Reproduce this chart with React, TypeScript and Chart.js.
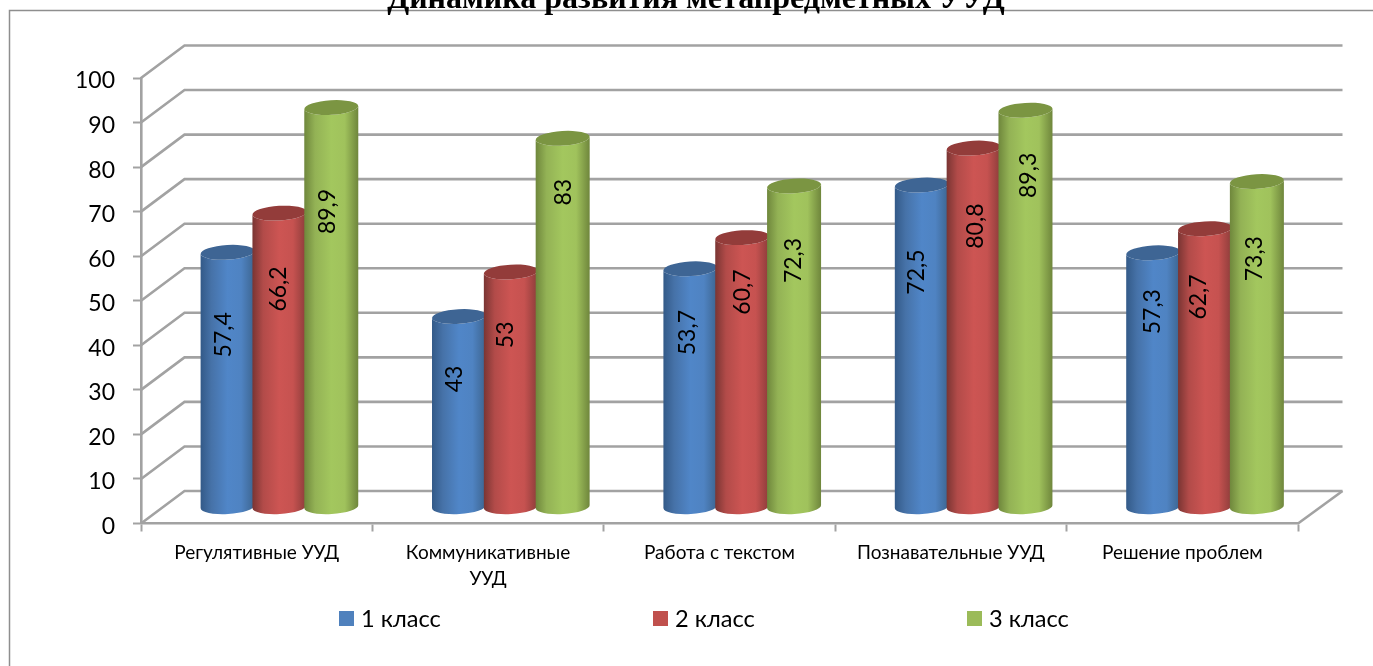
import React, { useEffect, useRef } from "react";
import { Chart, registerables } from "chart.js";

Chart.register(...registerables);

const chartTitle = "Динамика развития метапредметных УУД";
const categories = [
  "Регулятивные УУД",
  ["Коммуникативные", "УУД"],
  "Работа с текстом",
  "Познавательные УУД",
  "Решение проблем",
];
const seriesNames = ["1 класс", "2 класс", "3 класс"];
const grade1 = [57.4, 43, 53.7, 72.5, 57.3];
const grade2 = [66.2, 53, 60.7, 80.8, 62.7];
const grade3 = [89.9, 83, 72.3, 89.3, 73.3];
const axisTicks = [0, 10, 20, 30, 40, 50, 60, 70, 80, 90, 100];

// Height on the value axis where each rotated value label sits, per series.
const labelLevels = [
  [38.7, 28.8, 39.2, 52.8, 43.9],
  [49, 38.7, 48.3, 63.1, 47.2],
  [66.4, 70.7, 55.4, 74.5, 55.8],
];
// Sideways nudge of each value label from the middle of its cylinder.
const labelNudges = [
  [-3, -3, -2, -4, 0],
  [0, -4, 1, 3, -5],
  [-3, 2, 0, 4, -1],
];

const FONT = "Lato, Carlito, Calibri, sans-serif";
const GRID = "#a2a2a2";
const FRAME = "#8e8e8e";
const DEPTH_X = 43.5;
const DEPTH_Y = 32.5;
const CAP_RY = 7.3;
const CAP_TILT = -0.06;

const flat = ["#4f81bd", "#c0504d", "#9bbb59"];
const capColors = ["#3e6594", "#933c3a", "#7b9542"];
const bodyStops = [
  ["#335a88", "#4672a8", "#5086c8", "#4f83c2", "#3c648f"],
  ["#7a3533", "#b24b49", "#cd5553", "#c65250", "#8b3c3a"],
  ["#6f873c", "#93b255", "#a3c75e", "#a0c25c", "#6f863c"],
];

function drawCylinder(ctx: CanvasRenderingContext2D, bar: any, series: number) {
  const w = bar.width * 1.042;
  const rx = w / 2;
  const cx = bar.x + DEPTH_X / 2 + 1;
  const top = bar.y - DEPTH_Y / 2 + 0.8;
  const base = bar.base - DEPTH_Y / 2;
  const lift = rx * Math.sin(-CAP_TILT);

  const gradient = ctx.createLinearGradient(cx - rx, 0, cx + rx, 0);
  [0, 0.2, 0.5, 0.75, 1].forEach((stop, i) => gradient.addColorStop(stop, bodyStops[series][i]));

  ctx.beginPath();
  ctx.moveTo(cx - rx, top + lift);
  ctx.lineTo(cx - rx, base + lift);
  ctx.ellipse(cx, base, rx, CAP_RY, CAP_TILT, Math.PI, 0, true);
  ctx.lineTo(cx + rx, top - lift);
  ctx.ellipse(cx, top, rx, CAP_RY, CAP_TILT, 0, Math.PI, false);
  ctx.closePath();
  ctx.fillStyle = gradient;
  ctx.fill();

  ctx.beginPath();
  ctx.ellipse(cx, top, rx, CAP_RY, CAP_TILT, 0, Math.PI * 2);
  ctx.fillStyle = capColors[series];
  ctx.fill();
}

const scenePlugin = {
  id: "scene3d",
  beforeDraw(chart: any) {
    const { ctx } = chart;
    ctx.save();
    ctx.strokeStyle = FRAME;
    ctx.lineWidth = 1.5;
    ctx.beginPath();
    ctx.moveTo(9.5, 666);
    ctx.lineTo(9.5, 10.5);
    ctx.lineTo(1373, 10.5);
    ctx.stroke();

    ctx.fillStyle = "#000";
    ctx.textAlign = "center";
    ctx.textBaseline = "alphabetic";
    ctx.font = "bold 32px 'Liberation Serif'";
    ctx.fillText(chartTitle, 696, 8);

    // Legend row
    ctx.textAlign = "left";
    ctx.textBaseline = "middle";
    ctx.font = `23.6px ${FONT}`;
    chart.data.datasets.forEach((ds: any, i: number) => {
      const x = 339 + i * 314;
      ctx.fillStyle = ds.backgroundColor;
      ctx.fillRect(x, 611, 15, 15);
      ctx.fillStyle = "#000";
      ctx.fillText(ds.label, x + 22, 619.5);
    });
    ctx.restore();
  },
  beforeDatasetsDraw(chart: any) {
    const { ctx, scales } = chart;
    const { x: xs, y: ys } = scales;
    ctx.save();
    // Side and back walls of the box
    ctx.strokeStyle = GRID;
    ctx.lineWidth = 2.6;
    axisTicks.forEach((v) => {
      const y = ys.getPixelForValue(v);
      ctx.beginPath();
      ctx.moveTo(xs.left, y);
      ctx.lineTo(xs.left + DEPTH_X, y - DEPTH_Y);
      ctx.lineTo(xs.right + DEPTH_X + 1, y - DEPTH_Y);
      ctx.stroke();
    });
    const floorY = ys.getPixelForValue(0);
    ctx.beginPath();
    ctx.moveTo(xs.right, floorY);
    ctx.lineTo(xs.right + DEPTH_X + 1, floorY - DEPTH_Y);
    ctx.stroke();

    // Cylinders go back to front by series so later ones overlap earlier ones
    chart.data.datasets.forEach((_: any, s: number) => {
      chart.getDatasetMeta(s).data.forEach((bar: any) => drawCylinder(ctx, bar, s));
    });

    // Rotated value labels
    ctx.fillStyle = "#000";
    ctx.font = `23px ${FONT}`;
    ctx.textAlign = "center";
    ctx.textBaseline = "middle";
    chart.data.datasets.forEach((ds: any, s: number) => {
      chart.getDatasetMeta(s).data.forEach((bar: any, i: number) => {
        const px = bar.x + DEPTH_X / 2 + labelNudges[s][i];
        const py = ys.getPixelForValue(labelLevels[s][i]) - DEPTH_Y / 2;
        ctx.save();
        ctx.translate(px, py);
        ctx.rotate(-Math.PI / 2);
        ctx.fillText(String(ds.data[i]).replace(".", ","), 0, 0);
        ctx.restore();
      });
    });
    ctx.restore();
  },
  // The cylinders above replace the flat rectangles
  beforeDatasetDraw() {
    return false;
  },
};

export default function App() {
  const canvasRef = useRef<HTMLCanvasElement>(null);

  useEffect(() => {
    const chart = new Chart(canvasRef.current as HTMLCanvasElement, {
      type: "bar",
      data: {
        labels: categories as any,
        datasets: [grade1, grade2, grade3].map((values, i) => ({
          label: seriesNames[i],
          data: values,
          backgroundColor: flat[i],
          categoryPercentage: 0.672,
          barPercentage: 1,
        })),
      },
      options: {
        responsive: false,
        animation: false,
        layout: { padding: { left: 0, right: 75, top: 78, bottom: 0 } },
        plugins: { legend: { display: false }, title: { display: false }, tooltip: { enabled: false } },
        scales: {
          x: {
            afterFit: (s: any) => {
              s.height = 142.5;
            },
            grid: { drawOnChartArea: false, tickLength: 8, tickWidth: 2, tickColor: GRID },
            border: { color: GRID, width: 2.6 },
            ticks: {
              color: "#000",
              maxRotation: 0,
              autoSkip: false,
              padding: 9,
              font: { family: FONT, size: 19, lineHeight: 1.35 },
            },
          },
          y: {
            min: 0,
            max: 100,
            afterFit: (s: any) => {
              s.width = 141;
            },
            grid: { drawOnChartArea: false, tickLength: 8, tickWidth: 2, tickColor: GRID },
            border: { color: GRID, width: 2.6 },
            ticks: {
              stepSize: 10,
              color: "#000",
              padding: 18,
              labelOffset: 3,
              font: { family: FONT, size: 23 },
            },
          },
        },
      },
      plugins: [scenePlugin as any],
    });
    return () => chart.destroy();
  }, []);

  return (
    <canvas
      ref={canvasRef}
      width={1373}
      height={666}
      style={{ position: "fixed", left: 0, top: 0, width: 1373, height: 666, display: "block", background: "#fff" }}
    />
  );
}
